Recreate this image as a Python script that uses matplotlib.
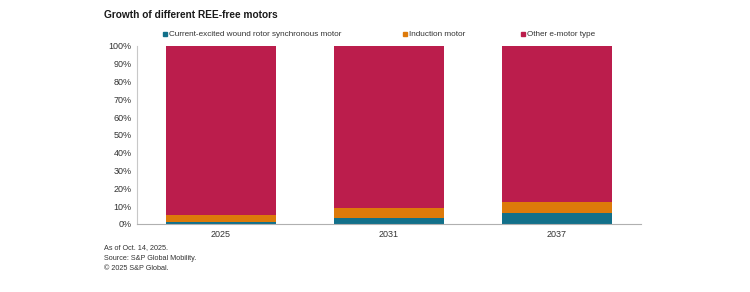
import matplotlib
matplotlib.use("Agg")
import matplotlib.pyplot as plt
import numpy as np

plt.rcParams['font.family'] = ['Liberation Sans', 'DejaVu Sans']

years = ["2025", "2031", "2037"]
wound_rotor = [1.2, 3.2, 6.0]
induction = [3.8, 5.6, 6.5]
other = [100 - a - b for a, b in zip(wound_rotor, induction)]
series_names = ["Current-excited wound rotor synchronous motor", "Induction motor", "Other e-motor type"]
colors = ["#12708A", "#DD7A0A", "#BB1D4C"]
yticks = list(range(0, 101, 10))

fig = plt.figure(figsize=(7.5, 2.92), dpi=100)
ax = fig.add_axes([0.1827, 0.2329, 0.672, 0.6096])
x = np.arange(len(years))
w = 0.66
bottom = np.zeros(len(years))
for vals, name, c in zip([wound_rotor, induction, other], series_names, colors):
    ax.bar(x, vals, w, bottom=bottom, color=c, label=name, linewidth=0)
    bottom += np.array(vals)

ax.set_xlim(-0.5, 2.5)
ax.set_ylim(0, 100)
ax.set_yticks(yticks)
ax.set_yticklabels([f"{t}%" for t in yticks], fontsize=6.5, color="#333333")
ax.set_xticks(x)
ax.set_xticklabels(years, fontsize=6.5, color="#333333")
ax.tick_params(axis='both', length=0, pad=4)
for s in ["top", "right"]:
    ax.spines[s].set_visible(False)
ax.spines["left"].set_color("#C8C8C8")
ax.spines["bottom"].set_color("#B0B0B0")
ax.spines["left"].set_linewidth(0.8)
ax.spines["bottom"].set_linewidth(0.8)

fig.text(104/750, 1 - 15/292, "Growth of different REE-free motors", fontsize=7.3, fontweight="bold",
         ha="left", va="center", color="#1a1a1a")

leg_y = 1 - 33/292
leg_x = [163, 403, 521]
for lx, name, c in zip(leg_x, series_names, colors):
    fig.patches.append(plt.Rectangle((lx/750, leg_y - 2.5/292), 4/750, 4/292, transform=fig.transFigure,
                                     color=c, figure=fig))
    fig.text((lx + 6)/750, leg_y, name, fontsize=5.9, ha="left", va="center_baseline", color="#333333")

notes = ["As of Oct. 14, 2025.", "Source: S&P Global Mobility.", "\u00a9 2025 S&P Global."]
for i, n in enumerate(notes):
    fig.text(104/750, 1 - (248 + i*10.5)/292, n, fontsize=5.2, ha="left", va="center", color="#333333")

fig.savefig("out.png", dpi=100)
